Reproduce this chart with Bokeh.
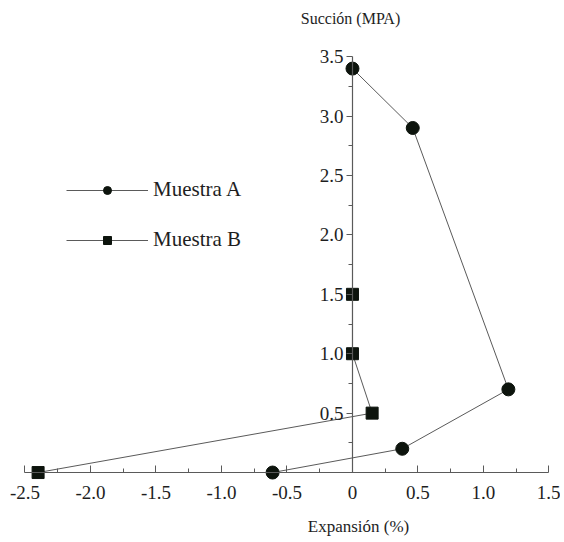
from bokeh.plotting import figure
from bokeh.models import (LinearAxis, FixedTicker, Range1d, Legend, LegendItem, Label)
from bokeh.embed import file_html
from bokeh.resources import INLINE

# Data
a_x = [0.0, 0.46, 1.19, 0.38, -0.61]
a_y = [3.4, 2.9, 0.7, 0.2, 0.0]
b_x = [0.0, 0.0, 0.15, -2.40]
b_y = [1.5, 1.0, 0.5, 0.0]

x_ticks = [-2.5, -2.0, -1.5, -1.0, -0.5, 0.0, 0.5, 1.0, 1.5]
x_tick_labels = ["-2.5", "-2.0", "-1.5", "-1.0", "-0.5", "0", "0.5", "1.0", "1.5"]
x_minor = [-2.25, -1.75, -1.25, -0.75, -0.25, 0.25, 0.75, 1.25]
y_ticks = [0.5, 1.0, 1.5, 2.0, 2.5, 3.0, 3.5]
y_tick_labels = ["0.5", "1.0", "1.5", "2.0", "2.5", "3.0", "3.5"]
y_minor = [0.25, 0.75, 1.25, 1.75, 2.25, 2.75, 3.25]

FONT = "Liberation Serif"
TXT = "#1e1e1e"
LINE = "#5a5a5a"
MARK = "#0d140d"

p = figure(width=560, height=540, output_backend="svg", toolbar_location=None,
           x_range=Range1d(-2.687, 1.588), y_range=Range1d(-0.572, 3.973),
           x_axis_location=None, y_axis_location=None,
           min_border_left=0, min_border_right=0, min_border_top=0, min_border_bottom=0)
p.outline_line_color = None
p.grid.visible = False
p.background_fill_color = "white"

xa = LinearAxis(fixed_location=0, bounds=(-2.5, 1.5),
                ticker=FixedTicker(ticks=x_ticks, minor_ticks=x_minor),
                major_label_overrides={t: l for t, l in zip(x_ticks, x_tick_labels)})
xa.major_tick_in = 7
xa.major_tick_out = 0
xa.minor_tick_in = 4
xa.minor_tick_out = 0
xa.major_label_standoff = 13
xa.major_label_text_font = FONT
xa.major_label_text_font_size = "19px"
xa.major_label_text_color = TXT
xa.axis_line_color = LINE
xa.axis_line_width = 1.2
xa.major_tick_line_color = LINE
xa.minor_tick_line_color = LINE
p.add_layout(xa, "below")

ya = LinearAxis(fixed_location=0, bounds=(0, 3.5),
                ticker=FixedTicker(ticks=y_ticks, minor_ticks=y_minor),
                major_label_overrides={t: l for t, l in zip(y_ticks, y_tick_labels)})
ya.major_tick_in = 0
ya.major_tick_out = 6
ya.minor_tick_in = 0
ya.minor_tick_out = 4
ya.major_label_standoff = 3
ya.major_label_text_font = FONT
ya.major_label_text_font_size = "19px"
ya.major_label_text_color = TXT
ya.axis_line_color = LINE
ya.axis_line_width = 1.2
ya.major_tick_line_color = LINE
ya.minor_tick_line_color = LINE
p.add_layout(ya, "left")

la = p.line(a_x, a_y, line_color=LINE, line_width=1)
sa = p.scatter(a_x, a_y, marker="circle", size=13, fill_color=MARK, line_color=MARK)
lb = p.line(b_x, b_y, line_color=LINE, line_width=1)
sb = p.scatter(b_x, b_y, marker="square", size=12, fill_color=MARK, line_color=MARK)

legend = Legend(items=[LegendItem(label="Muestra A", renderers=[la, sa]),
                       LegendItem(label="Muestra B", renderers=[lb, sb])],
                location=(66, 288), glyph_width=82, glyph_height=20, label_height=20,
                spacing=25, padding=0, margin=0, label_standoff=5,
                border_line_color=None, background_fill_alpha=0,
                label_text_font=FONT, label_text_font_size="21px", label_text_color=TXT)
p.add_layout(legend)

p.add_layout(Label(x=-0.015, y=3.82, text="Succión (MPA)", text_align="center", text_baseline="middle",
                   text_font=FONT, text_font_size="16px", text_color=TXT))
p.add_layout(Label(x=0.046, y=-0.455, text="Expansión (%)", text_align="center", text_baseline="middle",
                   text_font=FONT, text_font_size="17px", text_color=TXT))

open("out.html", "w").write(file_html(p, INLINE))
